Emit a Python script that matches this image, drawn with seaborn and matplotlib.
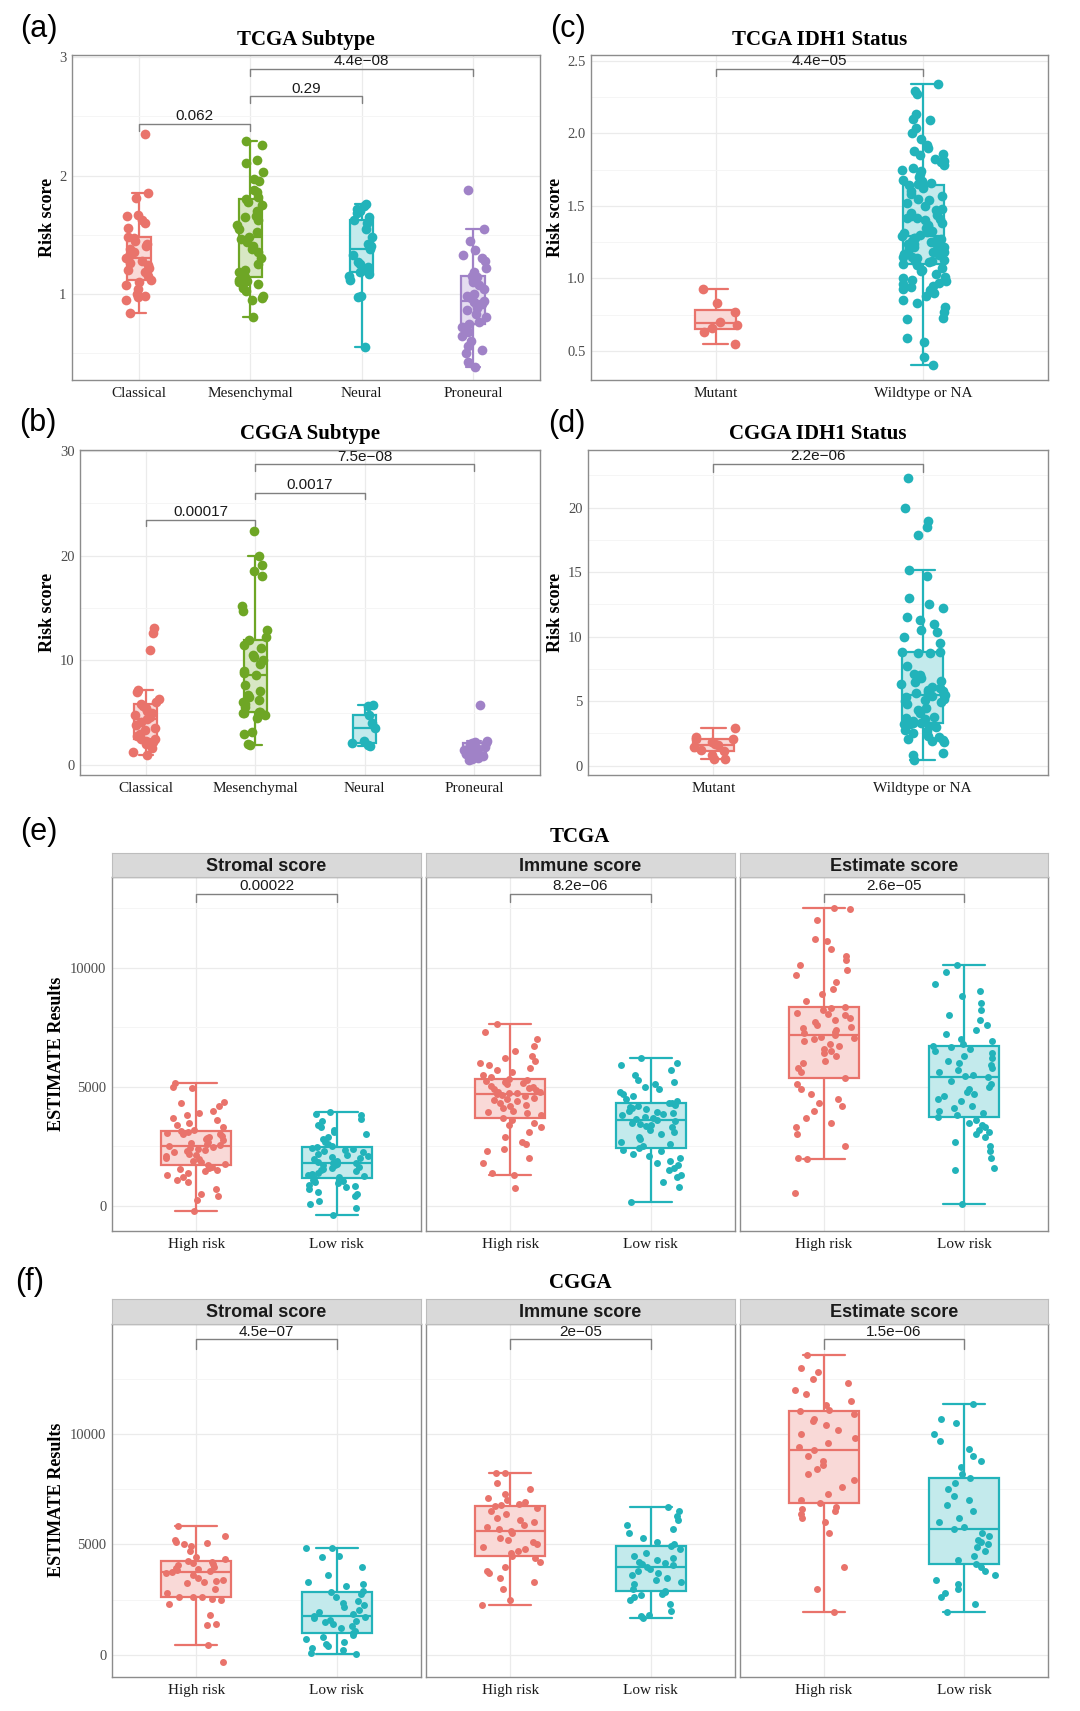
import numpy as np
import pandas as pd
import matplotlib
matplotlib.use("Agg")
import matplotlib.pyplot as plt
import matplotlib.colors as mcolors
import seaborn as sns

sns.set_theme(style="white")
plt.rcParams["font.family"] = ["Liberation Serif", "DejaVu Serif"]
np.random.seed(11)  # jitter only

# ---------------- data ----------------
subtypes = ["Classical", "Mesenchymal", "Neural", "Proneural"]
idh = ["Mutant", "Wildtype or NA"]
risk = ["High risk", "Low risk"]
scores = ["Stromal score", "Immune score", "Estimate score"]

# (a) TCGA subtype
tcga_classical = [0.84, 0.95, 0.97, 0.98, 1.00, 1.04, 1.07, 1.10, 1.12, 1.15, 1.18,
                  1.20, 1.22, 1.24, 1.26, 1.28, 1.30, 1.32, 1.35, 1.38, 1.40, 1.42,
                  1.45, 1.47, 1.48, 1.56, 1.60, 1.62, 1.66, 1.67, 1.81, 1.85, 2.35]
tcga_mesenchymal = [0.80, 0.95, 0.96, 0.98, 1.02, 1.05, 1.08, 1.10, 1.11, 1.12, 1.14,
                    1.18, 1.20, 1.25, 1.30, 1.35, 1.38, 1.40, 1.44, 1.46, 1.48, 1.52,
                    1.55, 1.58, 1.62, 1.65, 1.66, 1.70, 1.75, 1.78, 1.80, 1.82, 1.86,
                    1.88, 1.95, 1.97, 2.03, 2.11, 2.13, 2.26, 2.29]
tcga_neural = [0.55, 0.97, 0.98, 1.12, 1.15, 1.17, 1.18, 1.20, 1.23, 1.25, 1.27, 1.33,
               1.38, 1.40, 1.42, 1.48, 1.55, 1.60, 1.62, 1.65, 1.68, 1.70, 1.72, 1.74, 1.76]
tcga_proneural = [0.38, 0.42, 0.50, 0.52, 0.56, 0.60, 0.64, 0.68, 0.72, 0.74, 0.76, 0.80,
                  0.83, 0.86, 0.88, 0.90, 0.91, 0.93, 0.94, 0.96, 0.98, 1.00, 1.04, 1.07,
                  1.10, 1.12, 1.14, 1.15, 1.18, 1.22, 1.28, 1.30, 1.33, 1.37, 1.45, 1.55, 1.88]

# (c) TCGA IDH1
tcga_mutant = [0.55, 0.63, 0.66, 0.68, 0.70, 0.77, 0.83, 0.93]
tcga_wildtype = [0.40, 0.46, 0.56, 0.59, 0.72, 0.73, 0.77, 0.80, 0.83, 0.85, 0.88, 0.90,
                 0.92, 0.93, 0.94, 0.95, 0.96, 0.97, 0.98, 0.99, 1.00, 1.01, 1.03, 1.05,
                 1.06, 1.07, 1.09, 1.10,
                 1.11, 1.12, 1.12, 1.13, 1.14, 1.15, 1.15, 1.16, 1.17, 1.18, 1.18, 1.19,
                 1.20, 1.20, 1.21, 1.22, 1.22, 1.23, 1.24, 1.24, 1.25, 1.26, 1.26, 1.27,
                 1.28, 1.28, 1.29,
                 1.30, 1.31, 1.32, 1.33, 1.35, 1.36, 1.37, 1.38, 1.40, 1.41, 1.42, 1.42,
                 1.43, 1.44, 1.45, 1.47, 1.48, 1.50, 1.52, 1.54, 1.55, 1.57, 1.58, 1.60,
                 1.62, 1.64, 1.645,
                 1.65, 1.66, 1.67, 1.68, 1.70, 1.72, 1.74, 1.75, 1.76, 1.78, 1.80, 1.81,
                 1.82, 1.85, 1.86, 1.88, 1.90, 1.92, 1.96, 2.00, 2.04, 2.09, 2.10, 2.13,
                 2.27, 2.29, 2.34]

# (b) CGGA subtype
cgga_classical = [0.95, 1.2, 1.6, 2.0, 2.2, 2.3, 2.45, 2.5, 2.8, 3.0, 3.3, 3.5, 3.8, 4.1,
                  4.4, 4.6, 4.8, 5.0, 5.2, 5.4, 5.6, 5.8, 6.0, 6.3, 7.0, 7.2, 11.0, 12.6, 13.1]
cgga_mesenchymal = [1.9, 2.0, 3.0, 3.2, 4.5, 4.8, 5.0, 5.0, 5.05, 5.1, 5.5, 5.8, 6.0, 6.2,
                    6.5, 6.7, 7.1, 7.6, 8.6, 8.8, 9.0, 9.6, 10.0, 10.3, 10.5, 11.2, 11.5,
                    11.9, 12.2, 12.9, 14.7, 15.2, 18.0, 18.5, 19.1, 20.0, 22.3]
cgga_neural = [1.8, 1.9, 2.06, 2.3, 3.5, 4.0, 4.8, 5.6, 5.7]
cgga_proneural = [0.45, 0.55, 0.7, 0.85, 0.95, 1.05, 1.2, 1.3, 1.4, 1.55, 1.7, 1.9, 2.1,
                  2.15, 2.2, 2.3, 5.7]

# (d) CGGA IDH1
cgga_mutant = [0.5, 0.55, 0.8, 1.14, 1.2, 1.45, 1.6, 1.7, 1.85, 2.04, 2.1, 2.2, 2.9]
cgga_wildtype = [0.45, 0.8, 1.0, 1.8, 1.9, 2.0, 2.1, 2.2, 2.3, 2.5, 2.7, 2.8, 3.0, 3.1,
                 3.2, 3.25, 3.3, 3.33,
                 3.4, 3.5, 3.6, 3.7, 3.8, 4.1, 4.3, 4.5, 4.8, 4.9, 5.0, 5.1, 5.2, 5.3,
                 5.4, 5.45, 5.48,
                 5.6, 5.7, 5.8, 5.9, 6.0, 6.1, 6.3, 6.5, 6.6, 6.8, 7.0, 7.1, 7.7, 8.7,
                 8.75, 8.8, 8.84,
                 9.5, 10.0, 10.4, 10.5, 11.0, 11.3, 11.5, 12.2, 12.5, 13.0, 14.7, 15.2,
                 17.9, 18.5, 19.0, 20.0, 22.3]

# (e) TCGA ESTIMATE
tcga_stromal_high = [-200, 250, 400, 500, 700, 1000, 1100, 1200, 1300, 1400, 1450, 1500,
                     1550, 1600, 1650, 1720, 1780, 1850, 1900, 1950, 2000, 2100, 2150,
                     2200, 2250, 2300, 2350, 2400, 2450, 2480, 2515, 2550, 2600, 2650,
                     2700, 2750, 2800, 2850, 2900, 2950, 3000, 3020, 3050, 3080, 3100,
                     3140, 3200, 3300, 3400, 3500, 3600, 3700, 3800, 3900, 4000, 4200,
                     4300, 4350, 4950, 5000, 5170]
tcga_stromal_low = [-380, -100, 100, 200, 400, 500, 600, 700, 800, 850, 900, 950, 1000,
                    1050, 1100, 1160, 1200, 1250, 1300, 1350, 1400, 1450, 1500, 1550,
                    1600, 1650, 1700, 1720, 1750, 1770, 1790, 1820, 1850, 1900, 1950,
                    2000, 2050, 2100, 2150, 2200, 2250, 2300, 2350, 2400, 2430, 2460,
                    2500, 2600, 2700, 2800, 2900, 3000, 3100, 3200, 3300, 3400, 3550,
                    3650, 3800, 3850, 3950]
tcga_immune_high = [740, 1300, 1400, 1800, 2000, 2300, 2400, 2600, 2700, 2900, 3100, 3300,
                    3400, 3500, 3600, 3700, 3800, 3900, 3950, 4000, 4100, 4200, 4250, 4300,
                    4400, 4450, 4500, 4550, 4600, 4650, 4690, 4720, 4750, 4780, 4800, 4850,
                    4900, 4950, 5000, 5050, 5100, 5150, 5200, 5250, 5280, 5310, 5400, 5500,
                    5600, 5700, 5800, 5900, 6000, 6100, 6200, 6300, 6500, 6700, 7000, 7300,
                    7630]
tcga_immune_low = [180, 800, 1000, 1200, 1300, 1500, 1600, 1700, 1800, 1900, 2000, 2100,
                   2200, 2300, 2350, 2420, 2500, 2600, 2700, 2800, 2900, 3000, 3100, 3200,
                   3300, 3350, 3400, 3450, 3500, 3550, 3600, 3650, 3700, 3750, 3800, 3850,
                   3900, 3950, 4000, 4050, 4100, 4150, 4200, 4250, 4300, 4330, 4400, 4500,
                   4600, 4700, 4800, 4900, 5000, 5100, 5200, 5300, 5500, 5700, 5900, 6000,
                   6190]
tcga_estimate_high = [560, 1970, 2000, 2500, 3000, 3300, 3500, 3700, 4000, 4200, 4300, 4500,
                      4700, 4900, 5100, 5350, 5600, 5800, 6000, 6100, 6300, 6400, 6500,
                      6600, 6700, 6800, 6900, 7000, 7050, 7100, 7170, 7250, 7300, 7400,
                      7450, 7500, 7600, 7700, 7800, 7900, 8000, 8050, 8100, 8200, 8300,
                      8350, 8600, 8900, 9100, 9400, 9700, 9900, 10100, 10300, 10500,
                      10800, 11100, 11200, 12000, 12450, 12480]
tcga_estimate_low = [80, 1500, 1600, 2000, 2300, 2500, 2700, 2900, 3000, 3100, 3200, 3300,
                     3400, 3500, 3600, 3720, 3800, 3900, 4000, 4100, 4200, 4400, 4500,
                     4600, 4700, 4800, 4900, 5000, 5100, 5250, 5390, 5450, 5500, 5600,
                     5700, 5800, 5900, 6000, 6100, 6200, 6300, 6400, 6500, 6600, 6650,
                     6710, 6800, 6900, 7000, 7200, 7400, 7600, 7800, 8000, 8200, 8500,
                     8800, 9000, 9300, 9800, 10110]

# (f) CGGA ESTIMATE
cgga_stromal_high = [-300, 450, 1350, 1400, 1800, 2300, 2500, 2550, 2600, 2620, 2640, 2800,
                     3000, 3250, 3300, 3350, 3400, 3500, 3600, 3700, 3770, 3800, 3850,
                     3900, 3950, 4000, 4050, 4100, 4150, 4200, 4270, 4350, 4450, 4700,
                     4950, 5000, 5050, 5100, 5200, 5400, 5840]
cgga_stromal_low = [50, 100, 200, 300, 400, 500, 600, 700, 800, 900, 980, 1100, 1200, 1300,
                    1400, 1500, 1550, 1600, 1650, 1700, 1760, 1850, 1950, 2050, 2150, 2250,
                    2350, 2450, 2600, 2750, 2840, 2900, 3100, 3200, 3300, 3600, 4000, 4450,
                    4500, 4830, 4830]
cgga_immune_high = [2260, 2500, 3000, 3300, 3500, 3700, 3800, 4000, 4200, 4400, 4480, 4600,
                    4700, 4800, 4900, 5000, 5100, 5200, 5300, 5500, 5610, 5700, 5800, 5900,
                    6000, 6100, 6200, 6400, 6500, 6650, 6760, 6800, 6850, 6900, 7000, 7100,
                    7300, 7500, 7800, 8250, 8250]
cgga_immune_low = [1690, 1750, 1800, 2000, 2300, 2500, 2600, 2700, 2750, 2850, 2910, 3000,
                   3200, 3300, 3400, 3500, 3600, 3700, 3800, 3900, 4000, 4050, 4100, 4150,
                   4200, 4300, 4400, 4500, 4600, 4800, 4930, 5000, 5100, 5300, 5500, 5700,
                   5900, 6100, 6300, 6500, 6710]
cgga_estimate_high = [1960, 3000, 4000, 5500, 6000, 6200, 6400, 6500, 6600, 6700, 6860, 7000,
                      7300, 7600, 7900, 8200, 8400, 8600, 8800, 9000, 9270, 9400, 9600,
                      9800, 10000, 10200, 10400, 10600, 10700, 10900, 11040, 11100, 11300,
                      11500, 11800, 12000, 12300, 12500, 12800, 13000, 13570]
cgga_estimate_low = [1960, 2300, 2600, 2800, 3000, 3200, 3400, 3600, 3800, 4000, 4100, 4300,
                     4500, 4700, 4900, 5000, 5100, 5200, 5400, 5500, 5690, 5800, 6000, 6200,
                     6500, 6800, 7000, 7200, 7500, 7800, 7990, 8200, 8500, 8800, 9000, 9300,
                     9700, 10000, 10500, 10700, 11340]

# p-values
p_tcga_sub = ["0.062", "0.29", "4.4e\u221208"]
p_cgga_sub = ["0.00017", "0.0017", "7.5e\u221208"]
p_tcga_idh = "4.4e\u221205"
p_cgga_idh = "2.2e\u221206"
p_tcga_est = ["0.00022", "8.2e\u221206", "2.6e\u221205"]
p_cgga_est = ["4.5e\u221207", "2e\u221205", "1.5e\u221206"]

# ---------------- style ----------------
RED, GREEN, TEAL, PURPLE = "#E9736B", "#6EA625", "#22B3BA", "#A082C7"
SANS = ["Liberation Sans", "DejaVu Sans"]
BORDER = "#8C8C8C"


def light(c, a=0.27):
    r = np.array(mcolors.to_rgb(c))
    return tuple(1 - a * (1 - r))


W, H = 1080, 1711
fig = plt.figure(figsize=(W / 100, H / 100), dpi=100)


def px_axes(l, t, r, b):
    return fig.add_axes([l / W, 1 - b / H, (r - l) / W, (b - t) / H])


def ftext(x, y, s, **kw):
    fig.text(x / W, 1 - y / H, s, **kw)


def box_panel(ax, cats, groups, colors, width, jitter, size, ylim, yticks, ylabels,
              minor, brackets, tip, show_y=True):
    for cat, vals, col in zip(cats, groups, colors):
        d = pd.DataFrame({"g": cat, "v": vals})
        sns.boxplot(data=d, x="g", y="v", order=cats, color=light(col), linecolor=col,
                    saturation=1, linewidth=1.6, width=width, showfliers=False,
                    capwidths=width * 0.6, ax=ax)
        sns.stripplot(data=d, x="g", y="v", order=cats, color=col, jitter=jitter,
                      size=size, linewidth=0, ax=ax, zorder=3)
    ax.set_xlim(-0.6, len(cats) - 0.4)
    ax.set_ylim(*ylim)
    ax.set_yticks(yticks)
    ax.set_yticks(minor, minor=True)
    ax.set_xlabel("")
    ax.set_ylabel("")
    ax.set_facecolor("white")
    ax.set_axisbelow(True)
    ax.grid(True, which="major", color="#EBEBEB", lw=0.9)
    ax.grid(True, which="minor", axis="y", color="#F5F5F5", lw=0.7)
    for s in ax.spines.values():
        s.set_color(BORDER)
        s.set_linewidth(1.0)
    ax.tick_params(axis="x", length=3, width=0.8, color=BORDER, pad=2,
                   labelsize=11, labelcolor="#1A1A1A")
    ax.tick_params(which="minor", length=0)
    if show_y:
        ax.set_yticklabels(ylabels)
        ax.tick_params(axis="y", length=3, width=0.8, color=BORDER, pad=1,
                       labelsize=10.5, labelcolor="#4D4D4D")
    else:
        ax.tick_params(axis="y", length=0, labelleft=False)
    for i, j, y, label in brackets:
        ax.plot([i, i, j, j], [y - tip, y, y, y - tip], color="#808080", lw=1, zorder=4)
        ax.annotate(label, xy=((i + j) / 2, y), xytext=(0, 0.5), textcoords="offset points",
                    ha="center", va="bottom", fontsize=11, family=SANS, color="#1A1A1A")


# (a)
ax = px_axes(72, 55, 540, 380)
box_panel(ax, subtypes, [tcga_classical, tcga_mesenchymal, tcga_neural, tcga_proneural],
          [RED, GREEN, TEAL, PURPLE], 0.21, 0.12, 7, (0.27, 3.02), [1, 2, 3],
          ["1", "2", "3"], [0.5, 1.5, 2.5],
          [(0, 1, 2.44, p_tcga_sub[0]), (1, 2, 2.67, p_tcga_sub[1]),
           (1, 3, 2.90, p_tcga_sub[2])], 0.06)

# (c)
ax = px_axes(591, 55, 1048, 380)
box_panel(ax, idh, [tcga_mutant, tcga_wildtype], [RED, TEAL], 0.2, 0.11, 7,
          (0.30, 2.54), [0.5, 1.0, 1.5, 2.0, 2.5], ["0.5", "1.0", "1.5", "2.0", "2.5"],
          [0.75, 1.25, 1.75, 2.25], [(0, 1, 2.445, p_tcga_idh)], 0.05)

# (b)
ax = px_axes(80, 450, 540, 775)
box_panel(ax, subtypes, [cgga_classical, cgga_mesenchymal, cgga_neural, cgga_proneural],
          [RED, GREEN, TEAL, PURPLE], 0.21, 0.12, 7, (-0.95, 30.07), [0, 10, 20, 30],
          ["0", "10", "20", "30"], [5, 15, 25],
          [(0, 1, 23.4, p_cgga_sub[0]), (1, 2, 26.0, p_cgga_sub[1]),
           (1, 3, 28.7, p_cgga_sub[2])], 0.6)

# (d)
ax = px_axes(588, 450, 1048, 775)
box_panel(ax, idh, [cgga_mutant, cgga_wildtype], [RED, TEAL], 0.2, 0.11, 7,
          (-0.72, 24.47), [0, 5, 10, 15, 20], ["0", "5", "10", "15", "20"],
          [2.5, 7.5, 12.5, 17.5, 22.5], [(0, 1, 23.4, p_cgga_idh)], 0.6)

# (e) / (f) facets
facet_x = [(112, 421), (426, 735), (740, 1048)]
estimate_sets = [
    (877, 1231, 853, (-1050, 13800),
     [(tcga_stromal_high, tcga_stromal_low), (tcga_immune_high, tcga_immune_low),
      (tcga_estimate_high, tcga_estimate_low)], p_tcga_est, 13100, 350),
    (1324, 1677, 1299, (-1000, 14980),
     [(cgga_stromal_high, cgga_stromal_low), (cgga_immune_high, cgga_immune_low),
      (cgga_estimate_high, cgga_estimate_low)], p_cgga_est, 14280, 440),
]
for top, bottom, strip_top, ylim, pairs, pvals, by, tip in estimate_sets:
    for k, ((l, r), (hi, lo), pv) in enumerate(zip(facet_x, pairs, pvals)):
        ax = px_axes(l, top, r, bottom)
        box_panel(ax, risk, [hi, lo], [RED, TEAL], 0.5, 0.22, 5, ylim,
                  [0, 5000, 10000], ["0", "5000", "10000"], [2500, 7500, 12500],
                  [(0, 1, by, pv)], tip, show_y=(k == 0))
        sax = px_axes(l, strip_top, r, top)
        sax.set_facecolor("#D9D9D9")
        sax.set_xticks([])
        sax.set_yticks([])
        for s in sax.spines.values():
            s.set_color("#BDBDBD")
            s.set_linewidth(0.8)
        sax.text(0.5, 0.45, scores[k], transform=sax.transAxes, ha="center", va="center",
                 fontsize=13, fontweight="bold", family=SANS, color="#1A1A1A")

# titles and labels
title_kw = dict(ha="center", va="center", fontsize=15, fontweight="bold", color="black")
ftext(306, 40, "TCGA Subtype", **title_kw)
ftext(820, 40, "TCGA IDH1 Status", **title_kw)
ftext(310, 434, "CGGA Subtype", **title_kw)
ftext(818, 434, "CGGA IDH1 Status", **title_kw)
ftext(580, 837, "TCGA", **title_kw)
ftext(580, 1283, "CGGA", **title_kw)

ylab_kw = dict(ha="center", va="center", rotation=90, fontsize=13, fontweight="bold",
               color="black")
ftext(48, 217, "Risk score", **ylab_kw)
ftext(556, 217, "Risk score", **ylab_kw)
ftext(48, 612, "Risk score", **ylab_kw)
ftext(556, 612, "Risk score", **ylab_kw)
ftext(57, 1054, "ESTIMATE Results", **ylab_kw)
ftext(57, 1500, "ESTIMATE Results", **ylab_kw)

let_kw = dict(ha="left", va="center", fontsize=22, family=SANS, color="black")
ftext(20, 29, "(a)", **let_kw)
ftext(550, 29, "(c)", **let_kw)
ftext(19, 423, "(b)", **let_kw)
ftext(548, 424, "(d)", **let_kw)
ftext(20, 832, "(e)", **let_kw)
ftext(15, 1282, "(f)", **let_kw)

fig.savefig("out.png", dpi=100, facecolor="white")
